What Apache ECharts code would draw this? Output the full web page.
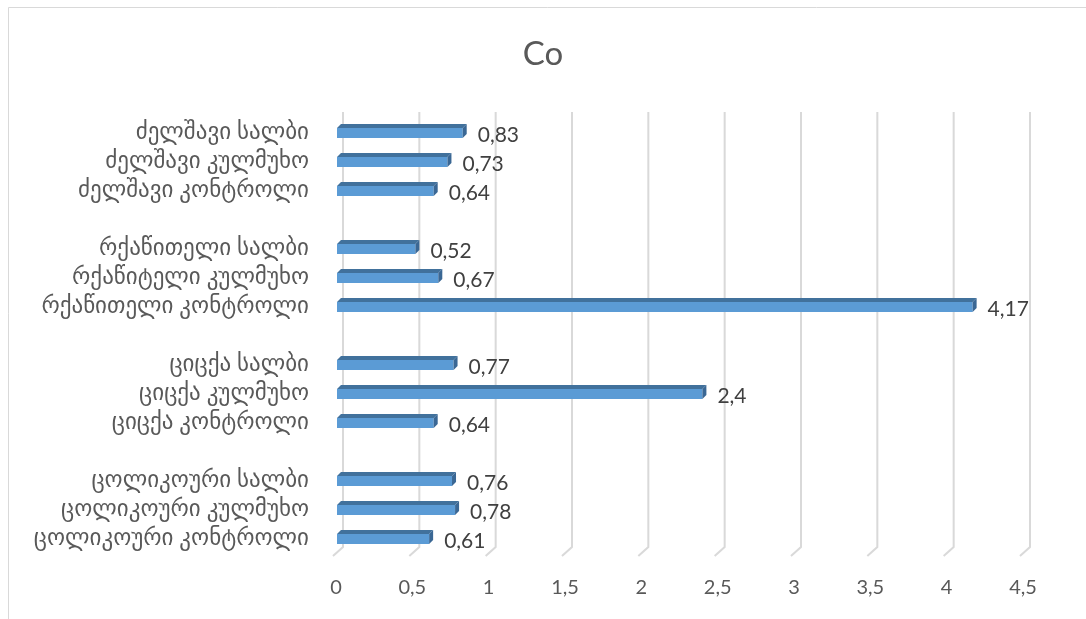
<!DOCTYPE html>
<html>
<head>
<meta charset="utf-8">
<script src="https://cdn.jsdelivr.net/npm/echarts@6/dist/echarts.min.js"></script>
<style>
html,body{margin:0;padding:0;background:#fff;}
#chart{width:1086px;height:619px;}
</style>
</head>
<body>
<div id="chart"></div>
<script>
// Categories top to bottom (blank entries are the gaps between groups)
const categories = [
  'ძელშავი სალბი',
  'ძელშავი კულმუხო',
  'ძელშავი კონტროლი',
  ' ',
  'რქაწითელი სალბი',
  'რქაწიტელი კულმუხო',
  'რქაწითელი კონტროლი',
  '  ',
  'ციცქა სალბი',
  'ციცქა კულმუხო',
  'ციცქა კონტროლი',
  '   ',
  'ცოლიკოური სალბი',
  'ცოლიკოური კულმუხო',
  'ცოლიკოური კონტროლი'
];
const values = [0.83, 0.73, 0.64, null, 0.52, 0.67, 4.17, null, 0.77, 2.4, 0.64, null, 0.76, 0.78, 0.61];
const tickValues = [0, 0.5, 1, 1.5, 2, 2.5, 3, 3.5, 4, 4.5];

const FONT = "Lato, 'DejaVu Sans', sans-serif";
const TEXT = '#595959';

const barData = [];
values.forEach(function (v, i) { if (v !== null) barData.push([v, i]); });
const gridData = tickValues.map(function (t) { return [t, 0]; });

function fmt(v) { return String(v).replace('.', ','); }

const chart = echarts.init(document.getElementById('chart'), null, {renderer: 'canvas'});
chart.setOption({
  backgroundColor: '#fff',
  animation: false,
  title: {
    text: 'Co',
    left: 'center',
    top: 33,
    textStyle: {color: TEXT, fontSize: 33, fontWeight: 'normal', fontFamily: FONT}
  },
  graphic: [{
    type: 'polyline',
    shape: {points: [[8.5, 619], [8.5, 7.5], [1086, 7.5]]},
    style: {stroke: '#d9d9d9', lineWidth: 1, fill: null},
    silent: true
  }],
  grid: {left: 336, right: 63, top: 117.5, bottom: 66.5, containLabel: false},
  xAxis: {
    type: 'value',
    min: 0,
    max: 4.5,
    interval: 0.5,
    axisLine: {show: false},
    axisTick: {show: false},
    splitLine: {show: false},
    axisLabel: {
      color: TEXT, fontSize: 20, fontFamily: FONT, margin: 25,
      formatter: function (v) { return fmt(v); }
    }
  },
  yAxis: {
    type: 'category',
    data: categories,
    inverse: true,
    axisLine: {show: false},
    axisTick: {show: false},
    splitLine: {show: false},
    axisLabel: {color: TEXT, fontSize: 23, fontFamily: FONT, margin: 27, interval: 0}
  },
  series: [
    {
      type: 'custom',
      name: 'grid',
      silent: true,
      z: 1,
      data: gridData,
      encode: {x: 0, y: 1},
      renderItem: function (params, api) {
        const p = api.coord([api.value(0), 0]);
        const top = 112;
        const bottom = 547;
        return {
          type: 'polyline',
          shape: {points: [[p[0] + 7, top], [p[0] + 7, bottom], [p[0] - 3, bottom + 9]]},
          style: {stroke: '#d9d9d9', lineWidth: 2, fill: null}
        };
      }
    },
    {
      type: 'custom',
      name: 'Co',
      z: 2,
      data: barData,
      encode: {x: 0, y: 1},
      renderItem: function (params, api) {
        const v = api.value(0);
        const idx = api.value(1);
        const p0 = api.coord([0, idx]);
        const p1 = api.coord([v, idx]);
        const x0 = p0[0] + 1, x1 = p1[0], c = p1[1];
        const yT = c - 4, yB = c + 6, d = 4;
        return {
          type: 'group',
          children: [
            {type: 'polygon', shape: {points: [[x0, yT], [x1, yT], [x1, yB], [x0, yB]]},
             style: {fill: '#5b9bd5'}},
            {type: 'polygon', shape: {points: [[x0, yT], [x1, yT], [x1 + d, yT - d], [x0 + d, yT - d]]},
             style: {fill: '#41719c'}},
            {type: 'polygon', shape: {points: [[x1, yT], [x1 + d, yT - d], [x1 + d, yB - d], [x1, yB]]},
             style: {fill: '#3a6794'}},
            {type: 'text', x: x1 + d + 11, y: c + 3,
             style: {text: fmt(v), fill: '#404040', fontSize: 21, fontFamily: FONT,
                     verticalAlign: 'middle', align: 'left'}}
          ]
        };
      }
    }
  ]
});
</script>
</body>
</html>
